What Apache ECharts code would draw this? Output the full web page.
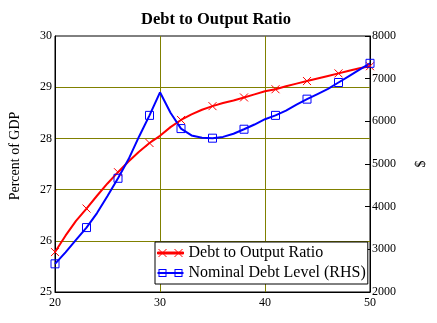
<!DOCTYPE html>
<html>
<head>
<meta charset="utf-8">
<script src="https://cdn.jsdelivr.net/npm/echarts@6/dist/echarts.min.js"></script>
<style>
html,body{margin:0;padding:0;background:#fff;}
#chart{width:437px;height:323px;}
</style>
</head>
<body>
<div id="chart"></div>
<script>
// Data
var xValues = [20,21,22,23,24,25,26,27,28,29,30,31,32,33,34,35,36,37,38,39,40,41,42,43,44,45,46,47,48,49,50];
var debtRatio = [25.78,26.10,26.39,26.63,26.88,27.12,27.34,27.55,27.74,27.91,28.05,28.22,28.36,28.47,28.56,28.63,28.69,28.74,28.80,28.86,28.92,28.96,29.02,29.07,29.12,29.17,29.22,29.27,29.32,29.37,29.41];
var nominalDebt = [2660,2930,3220,3510,3850,4250,4665,5110,5640,6140,6680,6200,5830,5670,5615,5605,5635,5710,5815,5925,6050,6140,6250,6390,6520,6640,6760,6910,7060,7210,7360];
var markedX = [20,23,26,29,32,35,38,41,44,47,50];
var seriesNames = ['Debt to Output Ratio', 'Nominal Debt Level (RHS)'];
var xTicks = [20,30,40,50];
var leftTicks = [25,26,27,28,29,30];
var rightTicks = [2000,3000,4000,5000,6000,7000,8000];

function buildData(ys) {
  return xValues.map(function (x, i) {
    var item = { value: [x, ys[i]] };
    if (markedX.indexOf(x) < 0) item.symbol = 'none';
    return item;
  });
}

var serif = 'Liberation Serif';
var olive = '#808000';
var crossPath = 'path://M0,0L10,10M10,0L0,10';
var redLegendIcon = 'path://M0,4L26,4L26,6L0,6ZM1,1L9,9M9,1L1,9M17,1L25,9M25,1L17,9';
var blueLegendIcon = 'path://M0,4L26,4L26,6L0,6ZM1,1L9,1L9,9L1,9ZM2,2L2,8L8,8L8,2ZM17,1L25,1L25,9L17,9ZM18,2L18,8L24,8L24,2Z';

var chart = echarts.init(document.getElementById('chart'), null, { renderer: 'canvas' });
chart.setOption({
  animation: false,
  backgroundColor: '#ffffff',
  textStyle: { fontFamily: serif },
  title: {
    text: 'Debt to Output Ratio',
    left: 211, textAlign: 'center', top: 6,
    textStyle: { fontFamily: serif, fontSize: 16.5, fontWeight: 'bold', color: '#000' }
  },
  grid: {
    left: 53, right: 67, top: 36, bottom: 31,
    show: true, borderColor: '#000', borderWidth: 1, backgroundColor: 'transparent'
  },
  legend: {
    orient: 'vertical',
    left: 155, top: 242,
    data: [
      { name: seriesNames[0], icon: redLegendIcon, itemStyle: { color: '#ff0000', borderColor: '#ff0000', borderWidth: 1 } },
      { name: seriesNames[1], icon: blueLegendIcon, itemStyle: { color: '#0000ff', borderColor: '#0000ff', borderWidth: 0 } }
    ],
    formatter: function (name) { return '{t|' + name + '}'; },
    backgroundColor: '#fff',
    borderColor: '#000', borderWidth: 1, borderRadius: 0,
    padding: [2, 2, 2, 2],
    itemWidth: 26, itemHeight: 10, itemGap: 2,
    textStyle: {
      fontFamily: serif, fontSize: 16, lineHeight: 18, color: '#000',
      rich: { t: { fontFamily: serif, fontSize: 16, lineHeight: 18, color: '#000' } }
    }
  },
  xAxis: {
    type: 'value', min: xTicks[0], max: xTicks[xTicks.length - 1], interval: 10,
    axisLine: { lineStyle: { color: '#000', width: 1 } },
    axisTick: { show: false },
    axisLabel: { fontFamily: serif, fontSize: 12, color: '#000', margin: 5 },
    splitLine: { show: true, showMinLine: false, showMaxLine: false, lineStyle: { color: olive, width: 1 } }
  },
  yAxis: [{
    type: 'value', min: leftTicks[0], max: leftTicks[leftTicks.length - 1], interval: 1,
    name: 'Percent of GDP', nameLocation: 'middle', nameRotate: 90, nameGap: 33,
    nameTextStyle: { fontFamily: serif, fontSize: 14, color: '#000', padding: [0, 0, 0, 16] },
    axisLine: { show: true, lineStyle: { color: '#000', width: 1 } },
    axisTick: { show: false },
    axisLabel: { fontFamily: serif, fontSize: 12, color: '#000', margin: 3 },
    splitLine: { show: true, showMinLine: false, showMaxLine: false, lineStyle: { color: olive, width: 1 } }
  }, {
    type: 'value', position: 'right', min: rightTicks[0], max: rightTicks[rightTicks.length - 1], interval: 1000,
    name: '$', nameLocation: 'middle', nameRotate: 90, nameGap: 44,
    nameTextStyle: { fontFamily: serif, fontSize: 14, color: '#000' },
    axisLine: { show: true, lineStyle: { color: '#000', width: 1 } },
    axisTick: { show: true, inside: true, length: 5, lineStyle: { color: '#000' } },
    axisLabel: { fontFamily: serif, fontSize: 12, color: '#000', margin: 2, formatter: function (v) { return String(v); } },
    splitLine: { show: false }
  }],
  series: [{
    name: seriesNames[0], type: 'line', yAxisIndex: 0,
    data: buildData(debtRatio),
    symbol: crossPath, symbolSize: 8,
    itemStyle: { color: '#ff0000', borderColor: '#ff0000', borderWidth: 1 },
    lineStyle: { color: '#ff0000', width: 2 },
    clip: true
  }, {
    name: seriesNames[1], type: 'line', yAxisIndex: 1,
    data: buildData(nominalDebt),
    symbol: 'rect', symbolSize: 8,
    itemStyle: { color: 'rgba(0,0,0,0)', borderColor: '#0000ff', borderWidth: 1 },
    lineStyle: { color: '#0000ff', width: 2 },
    clip: true
  }]
});
</script>
</body>
</html>
